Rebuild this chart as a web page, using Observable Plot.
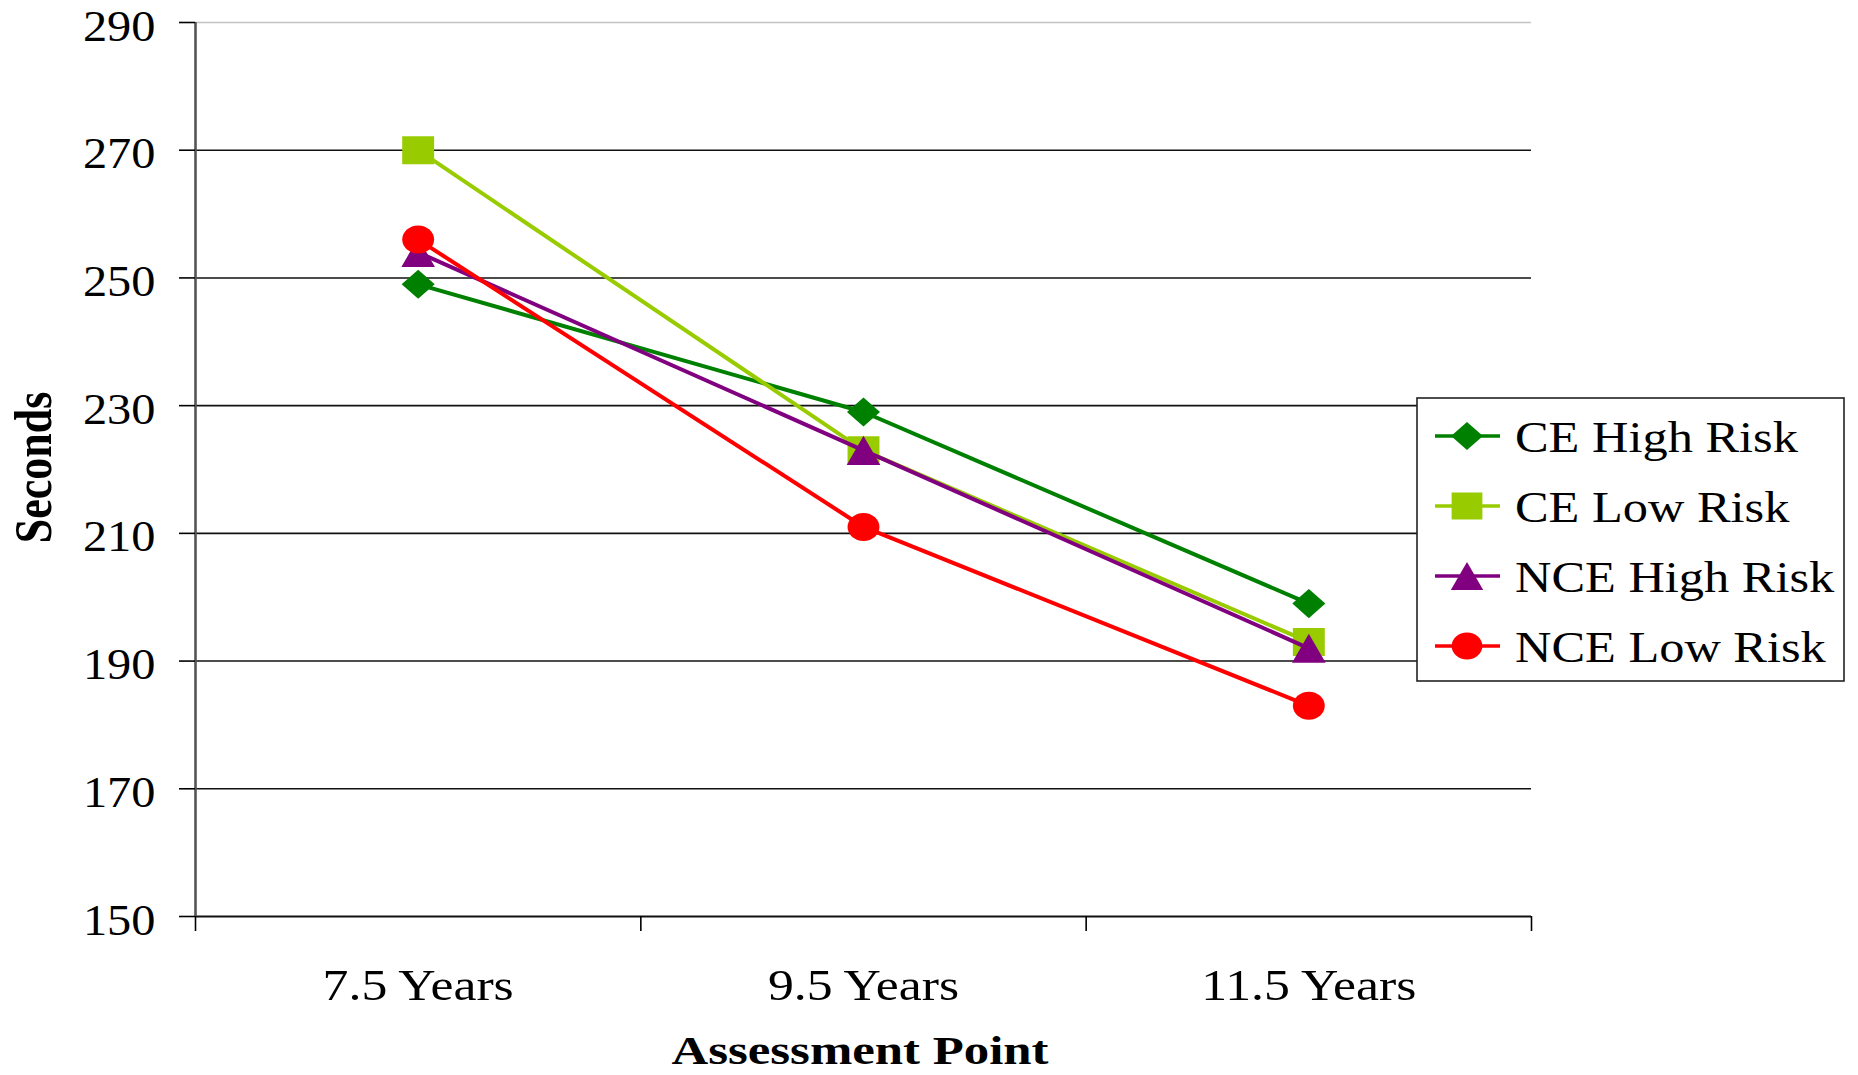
<!DOCTYPE html>
<html><head><meta charset="utf-8">
<script src="https://cdn.jsdelivr.net/npm/d3@7"></script>
<script src="https://cdn.jsdelivr.net/npm/@observablehq/plot@0.6"></script>
<style>
html,body{margin:0;padding:0;background:#fff;}
#wrap{position:relative;width:1858px;height:1075px;overflow:hidden;background:#fff;}
#wrap svg{position:absolute;left:0;top:0;}
</style></head><body><div id="wrap"></div>
<script>
// ---- data ----
const categories = ["7.5 Years", "9.5 Years", "11.5 Years"];
const seriesNames = ["CE High Risk", "CE Low Risk", "NCE High Risk", "NCE Low Risk"];
const ceHigh = [249, 229, 199];
const ceLow = [270, 223, 193];
const nceHigh = [254, 223, 192];
const nceLow = [256, 211, 183];
const yTicks = [150, 170, 190, 210, 230, 250, 270, 290];
const seriesColors = ["#008000", "#99CC00", "#800080", "#FF0000"];
const seriesShapes = ["diamond", "square", "triangle", "circle"];
const seriesValues = [ceHigh, ceLow, nceHigh, nceLow];

// ---- custom (slightly wide) symbols ----
const KAPPA = 0.5523;
function makeSymbol(kind) {
  return {
    draw(ctx, size) {
      const r = Math.sqrt(size / Math.PI);
      if (kind === "diamond") {
        const w = r * 1.18, h = r * 1.04;
        ctx.moveTo(0, -h); ctx.lineTo(w, 0); ctx.lineTo(0, h); ctx.lineTo(-w, 0); ctx.closePath();
      } else if (kind === "square") {
        const w = r * 1.14, h = r;
        ctx.moveTo(-w, -h); ctx.lineTo(w, -h); ctx.lineTo(w, h); ctx.lineTo(-w, h); ctx.closePath();
      } else if (kind === "triangle") {
        const w = r * 1.2, h = r * 1.04;
        ctx.moveTo(0, -h); ctx.lineTo(w, h); ctx.lineTo(-w, h); ctx.closePath();
      } else {
        const a = r * 1.14, b = r, ka = a * KAPPA, kb = b * KAPPA;
        ctx.moveTo(a, 0);
        ctx.bezierCurveTo(a, kb, ka, b, 0, b);
        ctx.bezierCurveTo(-ka, b, -a, kb, -a, 0);
        ctx.bezierCurveTo(-a, -kb, -ka, -b, 0, -b);
        ctx.bezierCurveTo(ka, -b, a, -kb, a, 0);
        ctx.closePath();
      }
    }
  };
}
const symbols = seriesShapes.map(makeSymbol);

const rows = [];
seriesNames.forEach((name, s) => categories.forEach((c, i) =>
  rows.push({series: name, s, x: i + 0.5, value: seriesValues[s][i]})));

const W = 1858, H = 1075;
const mL = 195, mR = 327, mT = 22, mB = 159;

const seriesMarks = [];
seriesNames.forEach((name, s) => {
  const d = rows.filter(r => r.s === s);
  seriesMarks.push(Plot.line(d, {x: "x", y: "value", stroke: seriesColors[s], strokeWidth: 4}));
  seriesMarks.push(Plot.dot(d, {x: "x", y: "value", symbol: symbols[s], r: 14, fill: seriesColors[s], stroke: "none"}));
});

const chart = Plot.plot({
  width: W, height: H,
  marginLeft: mL, marginRight: mR, marginTop: mT, marginBottom: mB,
  style: {fontFamily: "'Liberation Serif', 'Times New Roman', serif", color: "#000", background: "#fff", overflow: "visible"},
  x: {type: "linear", domain: [0, categories.length], label: null},
  y: {domain: [150, 290], label: null},
  marks: [
    Plot.gridY(yTicks.filter(t => t > 150 && t < 290), {stroke: "#111", strokeOpacity: 1, strokeWidth: 1.6}),
    Plot.gridY([290], {stroke: "#c4c4c4", strokeOpacity: 1, strokeWidth: 1.6}),
    Plot.ruleY([150], {stroke: "#111", strokeWidth: 1.8}),
    Plot.ruleX([0], {stroke: "#555", strokeWidth: 2.6}),
    Plot.axisY({ticks: yTicks, tickSize: 16, tickFormat: () => "", label: null, strokeWidth: 1.6}),
    Plot.axisY({ticks: yTicks, tickSize: 0, tickPadding: 40, fontSize: 44, dy: 4, tickFormat: d => String(d), label: null}),
    Plot.axisX({ticks: categories.map((c, i) => i).concat([categories.length]), tickSize: 15, tickFormat: () => "", label: null, strokeWidth: 1.6}),
    Plot.axisX({ticks: categories.map((c, i) => i + 0.5), tickSize: 0, tickPadding: 52, fontSize: 45, tickFormat: d => categories[Math.floor(d)], label: null}),
    ...seriesMarks
  ]
});

const wrap = document.getElementById("wrap");
wrap.appendChild(chart);

function stretch(el, k) {
  const len = el.getComputedTextLength();
  if (len > 0) {
    el.setAttribute("textLength", (len * k).toFixed(1));
    el.setAttribute("lengthAdjust", "spacingAndGlyphs");
  }
}
chart.querySelectorAll('g[aria-label="y-axis tick label"] text').forEach(t => stretch(t, 1.1));
chart.querySelectorAll('g[aria-label="x-axis tick label"] text').forEach(t => stretch(t, 1.15));

// ---- overlay: axis titles and legend ----
const ov = d3.select(wrap).append("svg")
  .attr("width", W).attr("height", H)
  .style("font-family", "'Liberation Serif', 'Times New Roman', serif");

const xt = ov.append("text")
  .attr("x", 860).attr("y", 1064)
  .attr("text-anchor", "middle")
  .attr("font-weight", "bold").attr("font-size", 41)
  .text("Assessment Point");
xt.attr("textLength", 377).attr("lengthAdjust", "spacingAndGlyphs");

ov.append("text")
  .attr("transform", "translate(51,467.5) rotate(-90) scale(1,1.22)")
  .attr("text-anchor", "middle")
  .attr("font-weight", "bold").attr("font-size", 44)
  .text("Seconds");

const lg = ov.append("g");
lg.append("rect").attr("x", 1417).attr("y", 398).attr("width", 427).attr("height", 283)
  .attr("fill", "#fff").attr("stroke", "#222").attr("stroke-width", 1.6);
seriesNames.forEach((name, s) => {
  const cy = 436 + s * 70;
  lg.append("line").attr("x1", 1435).attr("x2", 1500).attr("y1", cy).attr("y2", cy)
    .attr("stroke", seriesColors[s]).attr("stroke-width", 3.5);
  lg.append("path").attr("transform", `translate(1467,${cy})`)
    .attr("d", d3.symbol(symbols[s], Math.PI * 13.5 * 13.5)())
    .attr("fill", seriesColors[s]);
  const t = lg.append("text").attr("x", 1515).attr("y", cy + 16)
    .attr("font-size", 45).text(name);
  stretch(t.node(), 1.12);
});
</script>
</body></html>
